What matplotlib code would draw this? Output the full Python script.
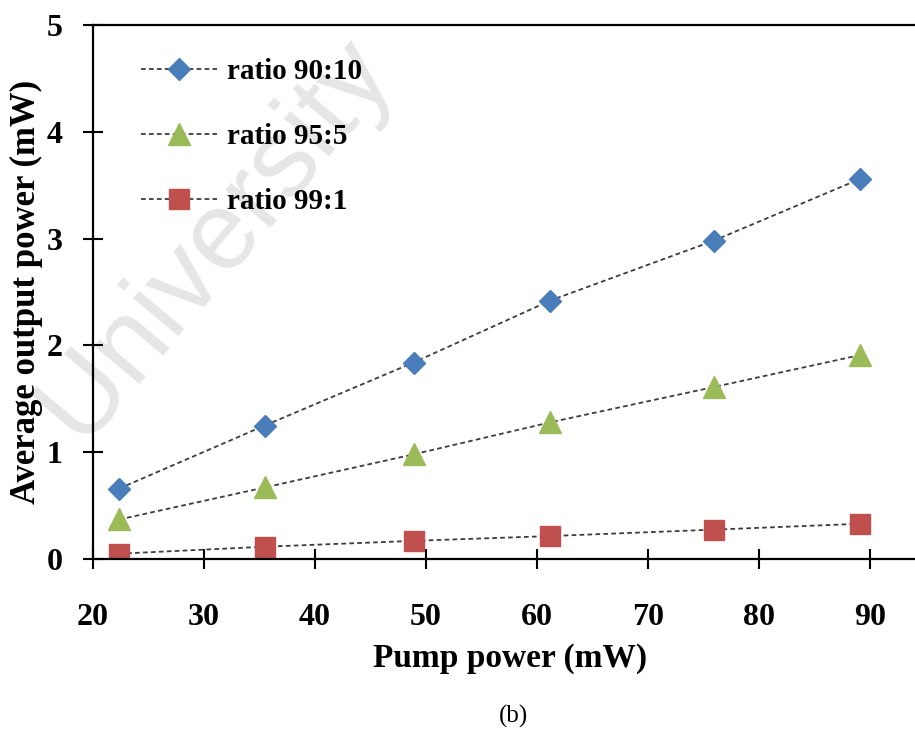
import matplotlib
matplotlib.use("Agg")
import matplotlib.pyplot as plt

# potencia de bombeo (mW) y potencia media de salida (mW) por razon del acoplador
bombeo = [22.4, 35.5, 48.9, 61.2, 75.9, 89.1]
salida_90_10 = [0.66, 1.25, 1.84, 2.42, 2.98, 3.56]
salida_95_5 = [0.37, 0.67, 0.98, 1.28, 1.61, 1.91]
salida_99_1 = [0.05, 0.115, 0.17, 0.215, 0.275, 0.33]

etiquetas = ["ratio 90:10", "ratio 95:5", "ratio 99:1"]
x_ticks = [20, 30, 40, 50, 60, 70, 80, 90]
y_ticks = [0, 1, 2, 3, 4, 5]

plt.rcParams["font.family"] = ["Liberation Serif", "DejaVu Serif"]
plt.rcParams["font.weight"] = "bold"

fig = plt.figure(figsize=(9.15, 7.34), dpi=100)
ax = fig.add_axes([0.1011, 0.2384, 0.8986, 0.7275])
ax.set_facecolor("none")
ax.set_zorder(1)

# marca de agua de fondo
fig.text(0.235, 0.675, "University", rotation=50, fontsize=80,
         family="Liberation Sans", fontweight="normal", color="#e6e6e6",
         ha="center", va="center", zorder=0)

estilo = dict(color="#3c3c3c", lw=1.3, linestyle=(0, (2.6, 1.8)))
ax.plot(bombeo, salida_90_10, marker="D", ms=11, mfc="#4a7ebb", mec="#4a7ebb",
        label=etiquetas[0], **estilo)
ax.plot(bombeo, salida_95_5, marker="^", ms=16, mfc="#9bbb59", mec="#9bbb59",
        label=etiquetas[1], **estilo)
ax.plot(bombeo, salida_99_1, marker="s", ms=14, mfc="#c0504d", mec="#c0504d",
        label=etiquetas[2], **estilo)

ax.set_xlim(20, 94)
ax.set_ylim(0, 5)
ax.set_xticks(x_ticks)
ax.set_yticks(y_ticks)

for lado in ["left", "bottom", "top"]:
    ax.spines[lado].set_linewidth(1.6)
ax.spines["right"].set_visible(False)

ax.tick_params(axis="both", direction="inout", length=15, width=1.5, labelsize=23)
ax.tick_params(axis="x", pad=24)
ax.tick_params(axis="y", pad=14)

ax.set_xlabel("Pump power (mW)", fontsize=24, fontweight="bold")
ax.xaxis.set_label_coords(0.508, -0.158)
ax.set_ylabel("Average output power (mW)", fontsize=25, fontweight="bold")
ax.yaxis.set_label_coords(-0.06, 0.5)

ax.legend(loc="upper left", bbox_to_anchor=(0.045, 0.96), frameon=False,
          fontsize=21, handlelength=2.6, handletextpad=0.35, labelspacing=1.3,
          borderaxespad=0)

fig.text(513 / 915, 1 - 716 / 734, "(b)", ha="center", va="center",
         fontsize=18, fontweight="normal")

fig.savefig("out.png", dpi=100)
